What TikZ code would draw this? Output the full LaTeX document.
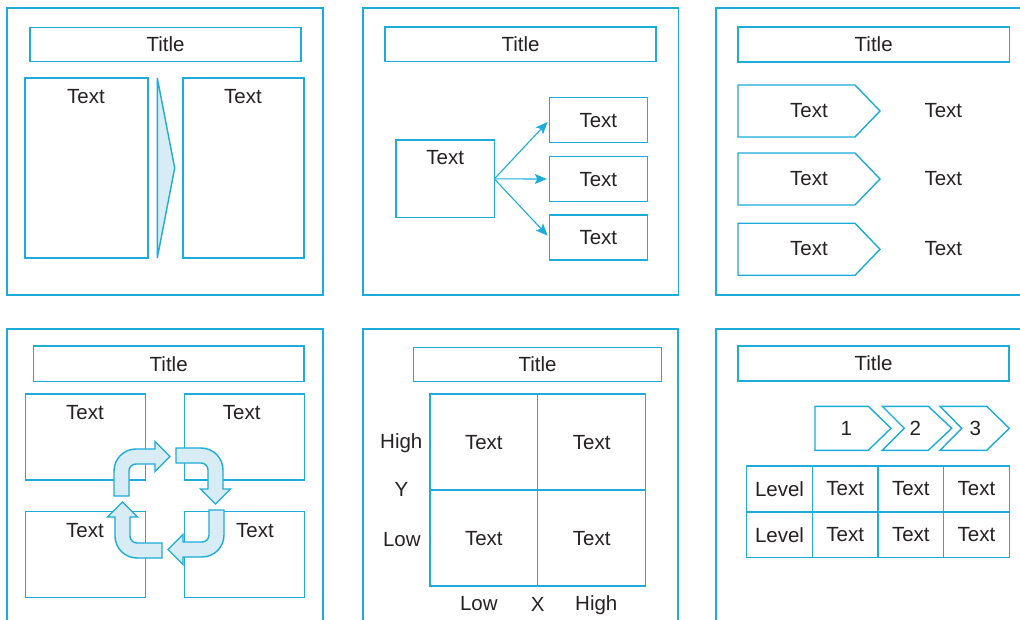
\documentclass[tikz,border=0pt]{standalone}
\usepackage{fontspec}
\setmainfont{Liberation Sans}
\usetikzlibrary{arrows.meta,calc}
\definecolor{rule}{RGB}{28,172,216}
\definecolor{tint}{RGB}{215,236,245}
\definecolor{ink}{RGB}{38,34,35}
\begin{document}
\begin{tikzpicture}[x=1pt,y=-1pt,line width=1.4pt,
  panel/.style={draw=rule},
  box/.style={draw=rule,fill=white,inner sep=0pt,outer sep=0pt,
    font=\fontsize{20.5}{24}\selectfont,text=ink,text depth=0pt},
  dims/.style 2 args={minimum width=#1,minimum height=#2},
  lbl/.style={font=\fontsize{20.5}{24}\selectfont,text=ink,inner sep=0pt,text depth=0pt},
  flow/.style={draw=rule,line width=1.1pt,-{Stealth[length=12pt,width=10pt,inset=2.5pt]},shorten >=2.5pt},
  tinted/.style={draw=rule,fill=tint,line join=miter},
  plate/.style={draw=rule,fill=white,line join=miter},
  bentarrow/.pic={
    \path[tinted] (-55,-7) -- (-55,-32)
      arc[start angle=180,end angle=270,radius=22]
      -- (-14,-54) -- (-14,-61.5) -- (1,-46.5) -- (-14,-31.5) -- (-14,-39) -- (-33,-39)
      arc[start angle=270,end angle=180,radius=7]
      -- (-40,-7) -- cycle;
  }
]
\useasboundingbox (0,0) rectangle (1020,620);
\clip (0,0) rectangle (1020,620);

% panel frames
\draw[panel] (7,8) rectangle (323,295);
\draw[panel] (363,8) rectangle (678.5,295);
\draw[panel] (716,8) rectangle (1040,295);
\draw[panel] (7,329) rectangle (323,640);
\draw[panel] (363,329) rectangle (678,640);
\draw[panel] (716,329) rectangle (1040,640);

% ---- panel 1: two columns with a wedge
\node[box,dims={271}{34}] (t1) at (165.5,44.5) {Title};
\node[box,dims={123}{180}] (p1a) at (86.5,168) {};
\node[box,dims={121}{180}] (p1b) at (243.5,168) {};
\node[lbl] (p1aT) at ($(p1a.north)+(-0.5,18)$) {Text};
\node[lbl] (p1bT) at ($(p1b.north)+(-0.5,18)$) {Text};
\draw[tinted] (157.3,78) -- (174.7,168) -- (157.3,258) -- cycle;

% ---- panel 2: one to three
\node[box,dims={271}{34.5}] (t2) at (520.5,44.3) {Title};
\node[box,dims={98.3}{77.7}] (src) at (445.2,178.9) {};
\node[lbl] (srcT) at ($(src.north)+(0,17.5)$) {Text};
\node[box,dims={98}{45}] (d1) at (598.3,120.2) {Text};
\node[box,dims={98}{44.6}] (d2) at (598.3,179) {Text};
\node[box,dims={98}{45}] (d3) at (598.3,237.5) {Text};
\draw[flow] (src.east) -- (d1.west);
\draw[flow] (src.east) -- (d2.west);
\draw[flow] (src.east) -- (d3.west);

% ---- panel 3: tagged rows
\node[box,dims={271.3}{35}] (t3) at (873.7,44.5) {Title};
\foreach \r/\y in {1/85,2/153,3/223.3}{
  \draw[plate] (738,\y) -- (855,\y) -- (880,\y+26) -- (855,\y+52) -- (738,\y+52) -- cycle;
}
\node[lbl] (g1) at (809,110) {Text};
\node[lbl] (g2) at (809,178.3) {Text};
\node[lbl] (g3) at (809,248.3) {Text};
\node[lbl] (h1) at (943.3,110) {Text};
\node[lbl] (h2) at (943.3,178.3) {Text};
\node[lbl] (h3) at (943.3,248.3) {Text};

% ---- panel 4: cycle of four
\node[box,dims={270.7}{35.5}] (t4) at (168.7,363.8) {Title};
\node[box,dims={120}{86}] (q1) at (85.7,437) {};
\node[box,dims={120}{86}] (q2) at (244.3,437) {};
\node[box,dims={120}{85.6}] (q3) at (85.7,554.5) {};
\node[box,dims={120}{85.6}] (q4) at (244.3,554.5) {};
\pic at (169,503) {bentarrow};
\pic[rotate=-90] at (169,503) {bentarrow};
\pic[rotate=-180] at (169,503) {bentarrow};
\pic[rotate=-270] at (169,503) {bentarrow};
\node[lbl] (q1T) at (85,412) {Text};
\node[lbl] (q2T) at (241.7,412) {Text};
\node[lbl] (q3T) at (85,530) {Text};
\node[lbl] (q4T) at (255,530) {Text};

% ---- panel 5: two-by-two grid
\node[box,dims={248.4}{34.4}] (t5) at (537.5,364.5) {Title};
\node[box,dims={107.7}{96}] (m11) at (483.85,442) {Text};
\node[box,dims={108}{96}] (m12) at (591.7,442) {Text};
\node[box,dims={107.7}{96}] (m21) at (483.85,538) {Text};
\node[box,dims={108}{96}] (m22) at (591.7,538) {Text};
\node[lbl] (yhi) at (401.3,441) {High};
\node[lbl] (yax) at (401.5,489.2) {Y};
\node[lbl] (ylo) at (401.8,539.5) {Low};
\node[lbl] (xlo) at (478.8,603.5) {Low};
\node[lbl] (xax) at (537.8,604.5) {X};
\node[lbl] (xhi) at (596.3,603) {High};

% ---- panel 6: stages and levels
\node[box,dims={271}{35}] (t6) at (873.5,363.5) {Title};
\draw[plate] (815,406.3) -- (868.3,406.3) -- (891,428.3) -- (868.3,450.3) -- (815,450.3) -- cycle;
\draw[plate] (882.3,406.3) -- (928.3,406.3) -- (951.7,428.3) -- (928.3,450.3) -- (882.3,450.3) -- (904.3,428.3) -- cycle;
\draw[plate] (940,406.3) -- (986.7,406.3) -- (1009.3,428.3) -- (986.7,450.3) -- (940,450.3) -- (961.7,428.3) -- cycle;
\node[lbl] (s1) at (846.3,428) {1};
\node[lbl] (s2) at (915.3,428) {2};
\node[lbl] (s3) at (975.3,428) {3};
\foreach \c/\x in {1/779.5,2/845.2,3/910.8,4/976.5}{
  \foreach \rr/\y in {1/488.9,2/534.8}{
    \ifnum\c=1
      \node[box,dims={65.65}{45.85}] (c\rr\c) at (\x,\y) {Level};
    \else
      \node[box,dims={65.65}{45.85}] (c\rr\c) at (\x,\y) {Text};
    \fi
  }
}
\end{tikzpicture}
\end{document}
